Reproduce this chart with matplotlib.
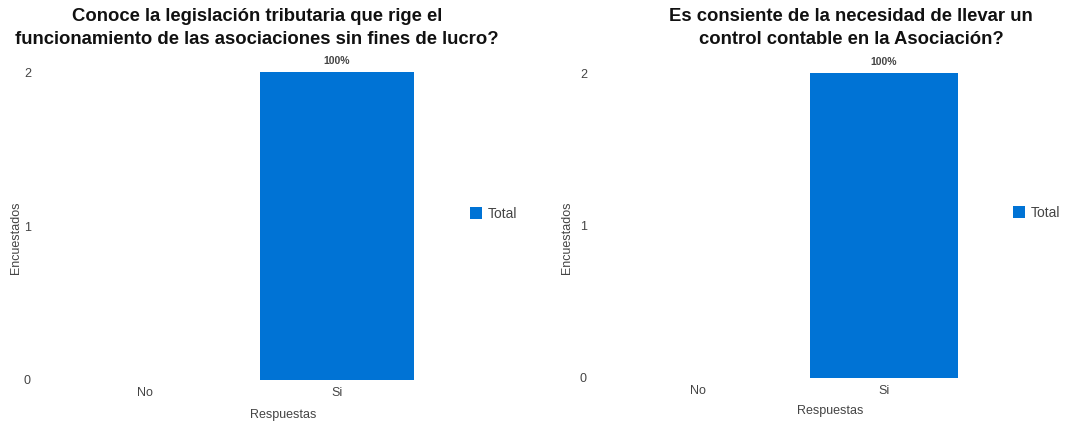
import matplotlib.pyplot as plt
import numpy as np

plt.rcParams['font.family'] = ['Liberation Sans', 'DejaVu Sans']

# data
respuestas = ['No', 'Si']
total_legislacion = [0, 2]
total_control = [0, 2]
titulos = ['Conoce la legislación tributaria que rige el\nfuncionamiento de las asociaciones sin fines de lucro?',
           'Es consiente de la necesidad de llevar un\ncontrol contable en la Asociación?']
yticks = [0, 1, 2]

W, H = 1065, 424
azul = '#0073d5'
gris = '#444444'

fig = plt.figure(figsize=(W / 100, H / 100), dpi=100)


def px(x0, y0, x1, y1):
    # pixel box (left, top, right, bottom) -> figure rect
    return [x0 / W, 1 - y1 / H, (x1 - x0) / W, (y1 - y0) / H]


paneles = [
    dict(rect=px(49, 72, 433, 380), datos=total_legislacion, titulo=titulos[0], tx=257,
         leg=(463, 214), ylab_x=16, xlab=(283, 415)),
    dict(rect=px(605, 73, 977, 378), datos=total_control, titulo=titulos[1], tx=851,
         leg=(1006, 213), ylab_x=567, xlab=(830, 411)),
]

for p in paneles:
    ax = fig.add_axes(p['rect'])
    x = np.arange(len(respuestas))
    barras = ax.bar(x, p['datos'], width=0.8, color=azul, label='Total')
    ax.set_xlim(-0.5, 1.5)
    ax.set_ylim(0, 2)
    ax.set_yticks(yticks)
    ax.set_xticks(x)
    ax.set_xticklabels(respuestas)
    for s in ax.spines.values():
        s.set_visible(False)
    ax.tick_params(axis='both', length=0, labelsize=9, colors=gris)
    ax.tick_params(axis='y', pad=13)
    ax.tick_params(axis='x', pad=5)

    suma = sum(p['datos'])
    for b, v in zip(barras, p['datos']):
        if v > 0:
            ax.text(b.get_x() + b.get_width() / 2, v + 0.04, f"{round(100 * v / suma)}%",
                    ha='center', va='bottom', fontsize=7.5, fontweight='bold', color=gris)

    fig.text(p['xlab'][0] / W, 1 - p['xlab'][1] / H, 'Respuestas', ha='center', va='center',
             fontsize=9, color=gris)
    fig.text(p['ylab_x'] / W, 1 - 238 / H, 'Encuestados', rotation=90, ha='center', va='center',
             fontsize=9, color=gris)

    fig.text(p['tx'] / W, 1 - 28 / H, p['titulo'], ha='center', va='center', fontsize=13.3,
             fontweight='bold', color='#111111', linespacing=1.4)

    fig.legend(handles=[barras], labels=['Total'], loc='center left',
               bbox_to_anchor=(p['leg'][0] / W, 1 - p['leg'][1] / H), frameon=False,
               handlelength=0.9, handleheight=0.9, handletextpad=0.4, borderpad=0,
               fontsize=10, labelcolor=gris)

fig.savefig('out.png', dpi=100)
